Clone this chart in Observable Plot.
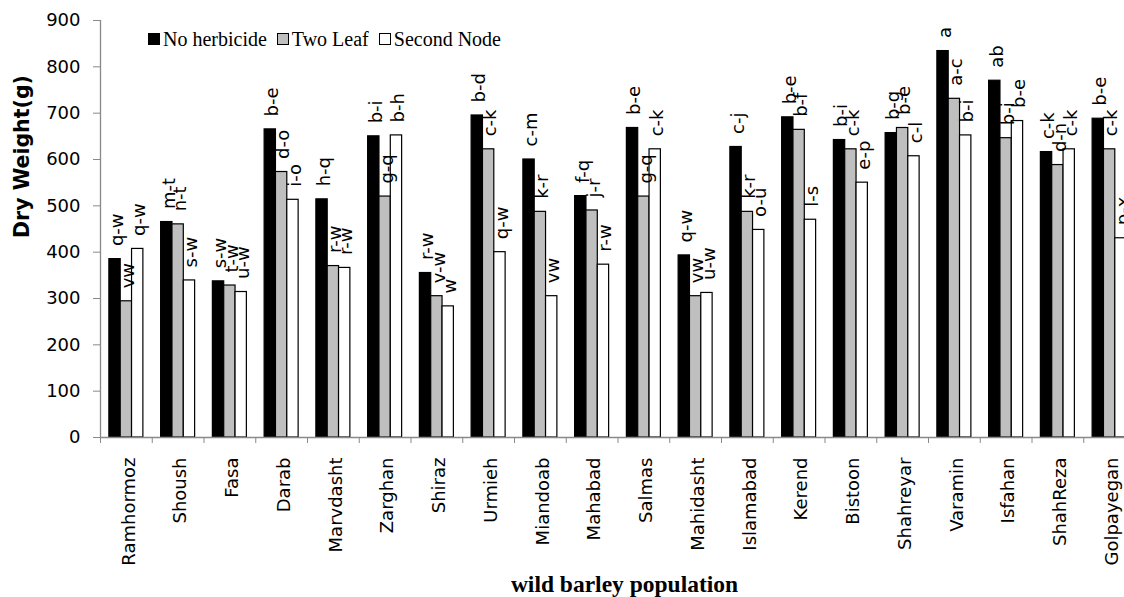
<!DOCTYPE html>
<html>
<head>
<meta charset="utf-8">
<script src="https://cdn.jsdelivr.net/npm/d3@7"></script>
<script src="https://cdn.jsdelivr.net/npm/@observablehq/plot@0.6"></script>
<style>
  html, body { margin: 0; padding: 0; background: #fff; overflow: hidden; }
  #wrap { position: relative; width: 1124px; height: 597px; }
  #legend { position: absolute; left: 148px; top: 29px; display: flex; align-items: center;
            font-family: "Liberation Serif", serif; font-size: 20px; line-height: 20px; white-space: nowrap; color: #000; }
  #legend .item { display: flex; align-items: center; margin-right: 10px; }
  #legend .sw { width: 10px; height: 10px; border: 1px solid #000; margin-right: 3px; }
</style>
</head>
<body>
<div id="wrap"><div id="chart"></div><div id="legend"></div></div>
<script>
const categories = ["Ramhormoz","Shoush","Fasa","Darab","Marvdasht","Zarghan","Shiraz","Urmieh","Miandoab","Mahabad","Salmas","Mahidasht","Islamabad","Kerend","Bistoon","Shahreyar","Varamin","Isfahan","ShahReza","Golpayegan"];
const series = ["No herbicide","Two Leaf","Second Node"];
const seriesColors = ["#000000","#bfbfbf","#ffffff"];

const noHerbicide = [385, 465, 337, 665, 514, 650, 355, 695, 600, 521, 668, 393, 627, 691, 642, 657, 834, 770, 616, 688];
const twoLeaf     = [294, 460, 328, 573, 370, 520, 305, 622, 487, 490, 520, 305, 487, 664, 622, 668, 731, 646, 588, 622];
const secondNode  = [407, 339, 314, 513, 366, 652, 283, 400, 305, 373, 622, 312, 448, 470, 550, 607, 652, 683, 622, 430];

const noHerbicideLabels = ["q-w","m-t","s-w","b-e","h-q","b-i","r-w","b-d","c-m","f-q","b-e","q-w","c-j","b-e","b-i","b-g","a","ab","c-k","b-e"];
const twoLeafLabels     = ["vw","n-t","t-w","d-o","r-w","g-q","v-w","c-k","k-r","j-r","g-q","vw","k-r","b-f","c-k","b-e","a-c","b-i","d-n","c-k"];
const secondNodeLabels  = ["q-w","s-w","u-w","i-o","r-w","b-h","w","q-w","vw","r-w","c-k","u-w","o-u","l-s","e-p","c-l","b-i","b-e","c-k","p-x"];

const yTicks = [0,100,200,300,400,500,600,700,800,900];
const yTitle = "Dry Weight(g)";
const xTitle = "wild barley population";

const values = [noHerbicide, twoLeaf, secondNode];
const labels = [noHerbicideLabels, twoLeafLabels, secondNodeLabels];

const rows = series.map((s, j) => categories.map((c, i) => ({pop: c, series: s, value: values[j][i], label: labels[j][i]})));

const xRange = [100, 1135];
const bw = (xRange[1] - xRange[0]) / categories.length;
const groupW = bw * 0.657;
const barW = groupW / 3;
const pad = (bw - groupW) / 2;
const axisColor = "#898989";

const plot = Plot.plot({
  width: 1124,
  height: 597,
  marginTop: 20,
  marginLeft: 100,
  marginRight: 0,
  marginBottom: 160,
  style: {fontFamily: "DejaVu Sans", fontSize: "18px", color: "#000", background: "#fff"},
  x: {domain: categories, range: xRange, padding: 0, round: false},
  y: {domain: [0, 900]},
  color: {domain: series, range: seriesColors},
  marks: [
    ...rows.map((data, j) => Plot.barY(data, {
      x: "pop", y: "value", fill: "series", stroke: "#000", strokeWidth: 1.2,
      insetLeft: pad + j * barW, insetRight: bw - pad - (j + 1) * barW
    })),
    ...rows.map((data, j) => Plot.text(data, {
      x: "pop", y: "value", text: "label", rotate: -90, textAnchor: "start", lineAnchor: "middle",
      dx: (j - 1) * barW + 2, dy: -13, fontSize: 18, fill: "#000"
    })),
    Plot.ruleY([0], {stroke: axisColor, strokeWidth: 1.3}),
    Plot.ruleX([categories[0]], {dx: -bw / 2, stroke: axisColor, strokeWidth: 1.3}),
    Plot.axisY({ticks: yTicks, tickSize: 7, tickPadding: 13, stroke: axisColor, fill: "#000", label: null}),
    Plot.axisX({tickSize: 6, tickFormat: () => "", dx: -bw / 2, stroke: axisColor, label: null}),
    Plot.axisX({tickSize: 0, tickRotate: -90, tickPadding: 20, dx: 2.5, fill: "#000", label: null}),
    Plot.text([yTitle], {frameAnchor: "left", rotate: -90, dx: -78, dy: 9, fontWeight: "bold", fontSize: 20.5, fontFamily: "DejaVu Sans", fill: "#000"}),
    Plot.text([xTitle], {frameAnchor: "bottom", dx: 12, dy: 154, lineAnchor: "bottom", fontWeight: "bold", fontSize: 23.5, fontFamily: "Liberation Serif", fill: "#000"})
  ]
});
document.getElementById("chart").appendChild(plot);

const legend = document.getElementById("legend");
series.forEach((s, j) => {
  const item = document.createElement("div");
  item.className = "item";
  const sw = document.createElement("span");
  sw.className = "sw";
  sw.style.background = seriesColors[j];
  const t = document.createElement("span");
  t.textContent = s;
  item.appendChild(sw);
  item.appendChild(t);
  legend.appendChild(item);
});
</script>
</body>
</html>
